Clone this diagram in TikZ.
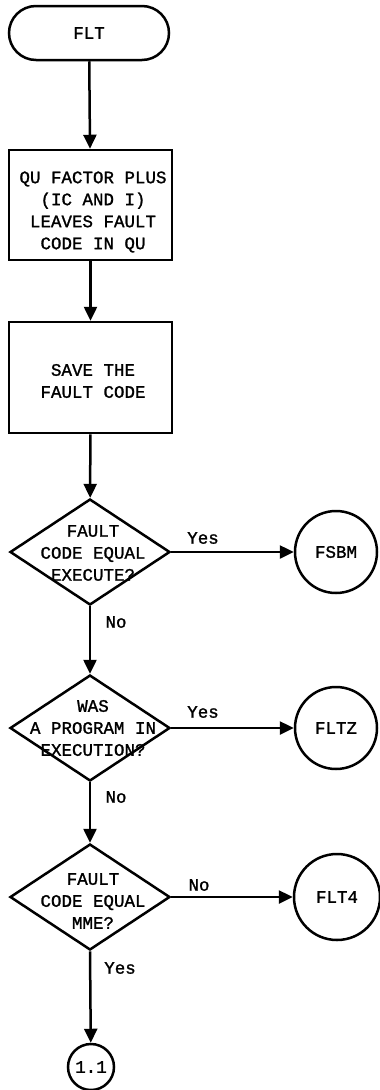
\documentclass[tikz,border=0pt]{standalone}
\usepackage{fontspec}
\setmonofont{Liberation Mono}[FakeBold=1.3]
\usetikzlibrary{shapes.geometric,shapes.misc,arrows.meta}
\begin{document}
\begin{tikzpicture}[x=1pt,y=-1pt,
  every node/.style={font=\ttfamily\fontsize{17.5}{22}\selectfont},
  line/.style={line width=2.5pt},
  flow/.style={line, -{Triangle[length=14pt,width=13pt]}},
  term/.style={draw, line width=2.5pt, rounded rectangle, minimum width=160pt, minimum height=54pt, inner sep=0pt},
  proc/.style={draw, line width=2.5pt, rectangle, minimum width=163pt, minimum height=110pt, inner sep=0pt},
  dec/.style={draw, line width=2.5pt, diamond, minimum width=160pt, minimum height=106pt, inner sep=0pt},
  conn/.style={draw, line width=2.5pt, circle, minimum size=82pt, inner sep=0pt},
  txt/.style={align=center, inner sep=0pt},
  lbl/.style={inner sep=0pt}
]
\useasboundingbox (0,0) rectangle (380,1090);

\node[term] (flt) at (89,33) {FLT};
\node[proc] (p1) at (90.5,205) {};
\node[txt] (p1t) at (93,212) {QU FACTOR PLUS\\(IC AND I)\\LEAVES FAULT\\CODE IN QU};
\node[proc, minimum height=111pt] (p2) at (90.5,377.5) {};
\node[txt] (p2t) at (93,381) {SAVE THE\\FAULT CODE};

\node[dec] (d1) at (90,552) {};
\node[txt] (d1t) at (93,553) {FAULT\\CODE EQUAL\\EXECUTE?};
\node[conn] (c1) at (336,552) {FSBM};

\node[dec] (d2) at (90,728) {};
\node[txt] (d2t) at (93,728) {WAS\\A PROGRAM IN\\EXECUTION?};
\node[conn] (c2) at (336,728) {FLTZ};

\node[dec] (d3) at (90,897) {};
\node[txt] (d3t) at (93,901) {FAULT\\CODE EQUAL\\MME?};
\node[conn, minimum size=86pt] (c3) at (337,897) {FLT4};

\node[conn, minimum size=46pt] (c4) at (91,1067) {1.1};

\draw[flow] (flt) -- (p1);
\draw[flow] (p1) -- (p2);
\draw[flow] (p2) -- (d1);
\draw[flow] (d1.east) -- (c1);
\draw[flow] (d1.south) -- (d2.north);
\draw[flow] (d2.east) -- (c2);
\draw[flow] (d2.south) -- (d3.north);
\draw[flow] (d3.east) -- (c3);
\draw[flow] (d3.south) -- (c4);

\node[lbl] (y1) at (203,538) {Yes};
\node[lbl] (n1) at (116,622) {No};
\node[lbl] (y2) at (203,712) {Yes};
\node[lbl] (n2) at (116,797) {No};
\node[lbl] (n3) at (199,885) {No};
\node[lbl] (y3) at (120,968) {Yes};
\end{tikzpicture}
\end{document}
